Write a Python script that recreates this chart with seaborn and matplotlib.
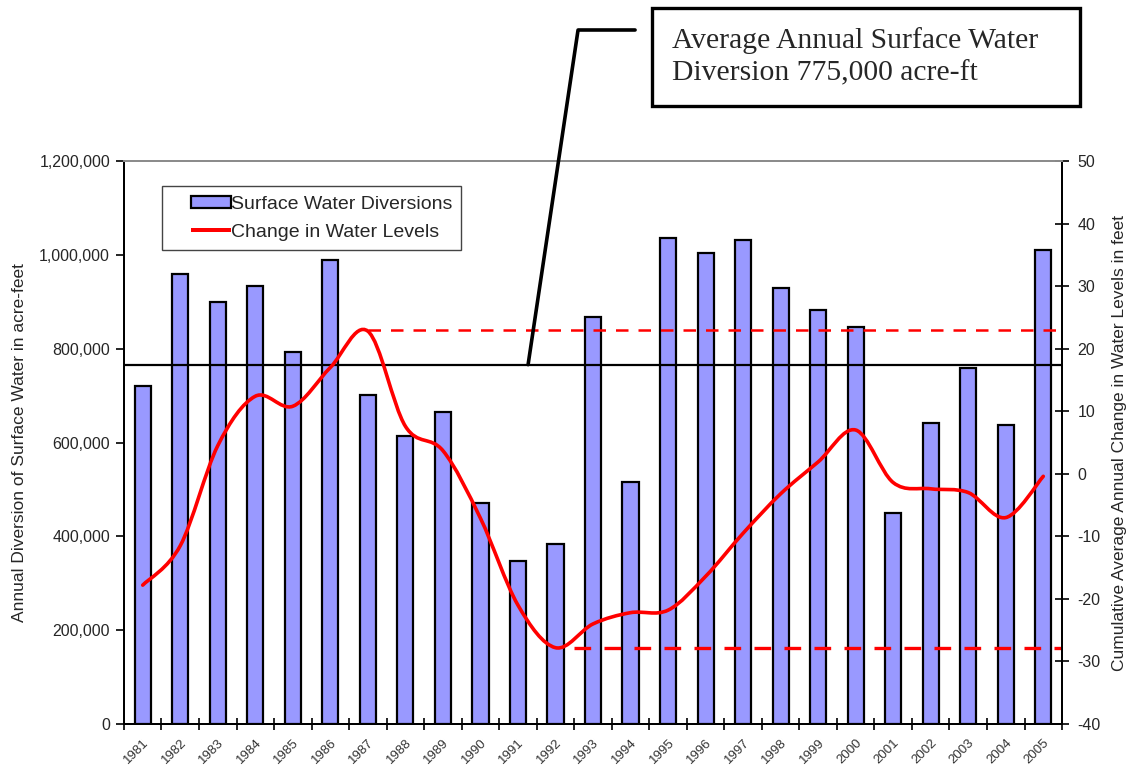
import numpy as np
import pandas as pd
import matplotlib
matplotlib.use("Agg")
import matplotlib.pyplot as plt
import seaborn as sns
from matplotlib.path import Path
from matplotlib.patches import PathPatch, Rectangle, Patch
from matplotlib.lines import Line2D
from matplotlib.legend_handler import HandlerPatch
from matplotlib.ticker import FuncFormatter

YEARS = [str(y) for y in range(1981, 2006)]
DIVERSIONS = [
    721000, 959000, 900000, 933000, 794000, 989000, 702000, 614000, 666000,
    472000, 348000, 384000, 867000, 516000, 1035000, 1004000, 1032000, 930000,
    883000, 847000, 449000, 641000, 759000, 638000, 1011000,
]
WATER_LEVEL = [
    -17.8, -11.5, 4.5, 12.4, 10.8, 17.0, 22.8, 7.6, 3.7, -7.1, -21.0, -27.8,
    -24.0, -22.2, -21.8, -16.4, -9.5, -3.2, 1.9, 7.0, -1.4, -2.4, -3.0, -7.0, -0.4,
]
MEAN_DIVERSION = 766000
HIGH_LEVEL = 23.0
LOW_LEVEL = -27.8
ANNOTATION = "Average Annual Surface Water\nDiversion 775,000 acre-ft"

BAR_COLOR = "#9999ff"
RED = "#ff0000"


def smooth_path(xs, ys):
    # Excel-style smoothed line: cubic bezier through every point
    pts = np.column_stack([xs, ys]).astype(float)
    ext = np.vstack([pts[0], pts, pts[-1]])
    verts = [tuple(pts[0])]
    codes = [Path.MOVETO]
    for i in range(1, len(ext) - 2):
        p0, p1, p2, p3 = ext[i - 1], ext[i], ext[i + 1], ext[i + 2]
        c1 = p1 + (p2 - p0) / 6.0
        c2 = p2 - (p3 - p1) / 6.0
        verts += [tuple(c1), tuple(c2), tuple(p2)]
        codes += [Path.CURVE4] * 3
    return Path(verts, codes)


def right_part_patch(frac_h):
    # legend key drawn in the right part of a wider handle box
    def make(legend, orig_handle, xdescent, ydescent, width, height, fontsize):
        w = width * 0.66
        h = height * frac_h
        return Rectangle((-xdescent + width - w, -ydescent + (height - h) / 2), w, h)
    return make


def main():
    sns.set_theme(style="white")
    plt.rcParams["font.family"] = ["Liberation Sans", "DejaVu Sans"]
    plt.rcParams["axes.unicode_minus"] = False

    df = pd.DataFrame({"year": YEARS, "diversion": DIVERSIONS, "level": WATER_LEVEL})

    fig = plt.figure(figsize=(11.29, 7.69), dpi=100)
    ax = fig.add_axes([0.1098, 0.0585, 0.8309, 0.7321])

    sns.barplot(
        data=df, x="year", y="diversion", color=BAR_COLOR, saturation=1,
        edgecolor="black", linewidth=1.6, width=0.43, ax=ax,
    )
    ax.axhline(MEAN_DIVERSION, color="black", linewidth=1.6, zorder=5)

    ax.set_ylim(0, 1200000)
    ax.set_xlim(-0.5, len(YEARS) - 0.5)
    ax.set_yticks(np.arange(0, 1200001, 200000))
    ax.yaxis.set_major_formatter(FuncFormatter(lambda v, _: f"{v:,.0f}"))
    ax.tick_params(axis="y", direction="out", length=6, width=1.2, color="black",
                   labelsize=11.5, pad=4, left=True)
    ax.set_xticks(range(len(YEARS)))
    ax.set_xticklabels(YEARS, rotation=45, ha="right", rotation_mode="anchor",
                       fontsize=9.5, color="#333333")
    ax.set_xticks(np.arange(-0.5, len(YEARS), 1), minor=True)
    ax.tick_params(axis="x", which="major", length=0, pad=9)
    ax.tick_params(axis="x", which="minor", direction="inout", length=8, width=1.2,
                   color="black", bottom=True)
    ax.set_xlabel("")
    ax.set_ylabel("Annual Diversion of Surface Water in acre-feet", fontsize=12.5, labelpad=9)

    ax2 = ax.twinx()
    ax2.set_ylim(-40, 50)
    ax2.set_yticks(np.arange(-40, 51, 10))
    ax2.tick_params(axis="y", direction="inout", length=10, width=1.2, color="black",
                    labelsize=11.5, pad=6, right=True)
    ax2.set_ylabel("Cumulative Average Annual Change in Water Levels in feet",
                   fontsize=12.5, labelpad=8)

    xs = np.arange(len(WATER_LEVEL))
    ax2.add_patch(PathPatch(smooth_path(xs, df["level"].values), facecolor="none",
                            edgecolor=RED, linewidth=2.6, capstyle="round", zorder=6))
    ax2.plot([6, len(YEARS) - 0.5], [HIGH_LEVEL, HIGH_LEVEL], color=RED,
             linestyle=(0, (5, 4)), linewidth=1.8)
    ax2.plot([11.5, len(YEARS) - 0.5], [LOW_LEVEL, LOW_LEVEL], color=RED,
             linestyle=(0, (5, 4)), linewidth=2.4)
    ax2.set_xlim(-0.5, len(YEARS) - 0.5)

    for a in (ax, ax2):
        for side in ("left", "bottom", "right"):
            a.spines[side].set_color("black")
            a.spines[side].set_linewidth(1.4)
        a.spines["top"].set_color("#8c8c8c")
        a.spines["top"].set_linewidth(1.4)

    bar_key = Patch(facecolor=BAR_COLOR, edgecolor="black", linewidth=1.6)
    line_key = Patch(facecolor=RED, edgecolor="none")
    leg = ax2.legend(
        [bar_key, line_key], ["Surface Water Diversions", "Change in Water Levels"],
        handler_map={
            bar_key: HandlerPatch(patch_func=right_part_patch(0.85)),
            line_key: HandlerPatch(patch_func=right_part_patch(0.32)),
        },
        loc="upper left", bbox_to_anchor=(0.0405, 0.955), fontsize=14,
        frameon=True, fancybox=False, framealpha=1, edgecolor="#444444",
        handlelength=3.1, handleheight=0.7, handletextpad=0.0, borderpad=0.45,
        labelspacing=0.55, borderaxespad=0,
    )
    leg.get_frame().set_linewidth(1.0)

    # annotation box with connector down to the mean line
    fig.patches.append(Rectangle((0.5775, 0.862), 0.379, 0.127, transform=fig.transFigure,
                                 facecolor="white", edgecolor="black", linewidth=2.4))
    fig.text(0.595, 0.926, ANNOTATION, transform=fig.transFigure, fontsize=21.3,
             family=["Liberation Serif", "DejaVu Serif"], va="center", ha="left",
             linespacing=1.3)
    end = fig.transFigure.inverted().transform(ax.transData.transform((10.27, MEAN_DIVERSION)))
    fig.lines.append(Line2D([0.5625, 0.512, end[0]], [0.961, 0.961, end[1]],
                            transform=fig.transFigure, color="black", linewidth=2.6))

    fig.savefig("out.png", dpi=100, facecolor="white")


if __name__ == "__main__":
    main()
